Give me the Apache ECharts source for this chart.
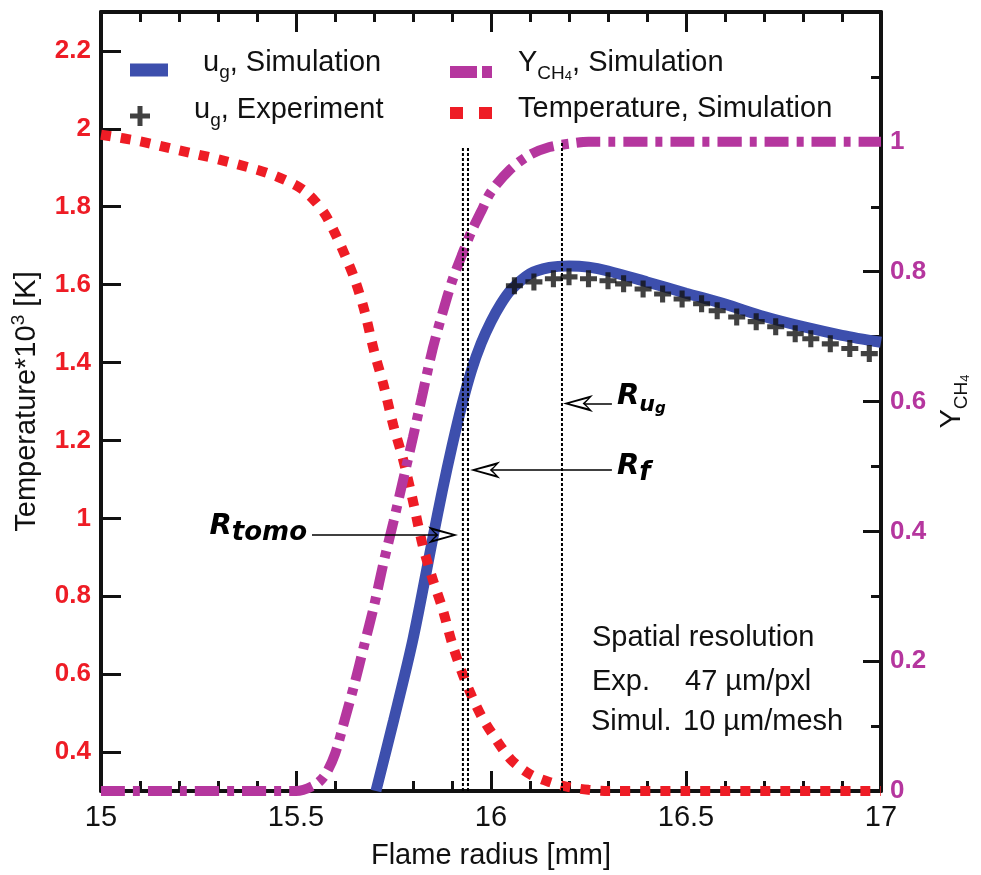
<!DOCTYPE html>
<html>
<head>
<meta charset="utf-8">
<script src="https://cdn.jsdelivr.net/npm/echarts@6/dist/echarts.min.js"></script>
<style>html,body{margin:0;padding:0;background:#fff}#c{width:981px;height:875px}</style>
</head>
<body>
<div id="c"></div>
<script>
// ---------------- data ----------------
const tempX = [15, 15.1, 15.2, 15.3, 15.4, 15.45, 15.5, 15.525, 15.55, 15.575, 15.6, 15.625, 15.65, 15.675, 15.7, 15.725, 15.75, 15.775, 15.8, 15.825, 15.85, 15.875, 15.9, 15.925, 15.95, 15.975, 16, 16.05, 16.1, 16.15, 16.2, 16.25, 16.3, 16.5, 16.75, 17];
const tempY = [1.985, 1.968, 1.945, 1.922, 1.895, 1.878, 1.855, 1.838, 1.813, 1.78, 1.732, 1.677, 1.615, 1.535, 1.43, 1.34, 1.237, 1.15, 1.044, 0.93, 0.845, 0.77, 0.68, 0.606, 0.545, 0.493, 0.452, 0.382, 0.343, 0.323, 0.31, 0.303, 0.3, 0.3, 0.3, 0.3];

const ch4X = [15, 15.5, 15.55, 15.575, 15.6, 15.625, 15.65, 15.675, 15.7, 15.725, 15.75, 15.775, 15.8, 15.825, 15.85, 15.875, 15.9, 15.925, 15.95, 15.975, 16, 16.05, 16.1, 16.15, 16.2, 16.25, 17];
const ch4Y = [0, 0, 0.01, 0.025, 0.057, 0.11, 0.165, 0.225, 0.285, 0.353, 0.415, 0.48, 0.545, 0.613, 0.68, 0.735, 0.785, 0.825, 0.862, 0.893, 0.923, 0.958, 0.98, 0.992, 0.997, 1.0, 1.0];

const ugSimX = [15.705, 15.75, 15.8, 15.85, 15.875, 15.9, 15.925, 15.95, 15.975, 16, 16.025, 16.05, 16.1, 16.15, 16.2, 16.25, 16.3, 16.4, 16.5, 16.6, 16.7, 16.8, 16.9, 17];
const ugSimY = [0.3, 0.48, 0.69, 0.945, 1.07, 1.185, 1.29, 1.38, 1.45, 1.505, 1.55, 1.585, 1.628, 1.644, 1.648, 1.645, 1.635, 1.607, 1.578, 1.55, 1.518, 1.492, 1.47, 1.452];

const ugExpX = [16.06, 16.11, 16.16, 16.2, 16.25, 16.3, 16.34, 16.39, 16.44, 16.49, 16.54, 16.58, 16.63, 16.68, 16.73, 16.78, 16.82, 16.87, 16.92, 16.97];
const ugExpY = [1.597, 1.607, 1.615, 1.62, 1.615, 1.61, 1.602, 1.589, 1.576, 1.563, 1.551, 1.533, 1.517, 1.505, 1.492, 1.474, 1.461, 1.448, 1.436, 1.423];

const leftTicks = [0.4, 0.6, 0.8, 1, 1.2, 1.4, 1.6, 1.8, 2, 2.2];

// reference lines (x position, top value on left axis)
const refLineX = [15.928, 15.941, 16.182];
const refLineTop = [1.952, 1.952, 1.965];

// annotation arrows: tail x, head x, y (left axis units)
const arrowTailX = [15.541, 16.31, 16.31];
const arrowHeadX = [15.859, 16.003, 16.241];
const arrowY = [0.957, 1.124, 1.295];

const N_UGSIM = 'u_g, Simulation';
const N_UGEXP = 'u_g, Experiment';
const N_CH4 = 'Y_CH4, Simulation';
const N_T = 'Temperature, Simulation';

// ---------------- styles ----------------
const FONT = '"Liberation Sans", Arial, Helvetica, sans-serif';
const BI = '"DejaVu Sans", Verdana, sans-serif';
const BLUE = '#3d4fad', RED = '#ee1c25', MAG = '#b5369e', INK = '#111';

const zip = (xs, ys) => xs.map((x, i) => [x, ys[i]]);

const PHANTOM = 'M0,0h0.01v0.01h-0.01Z ';
const ICON_BLUE = 'path://' + PHANTOM + 'M0,15H38V28H0Z';
const ICON_CROSS = 'path://M10,0h0.01v0.01h-0.01Z M7.5,12H12.5V19.5H20V24.5H12.5V32H7.5V24.5H0V19.5H7.5Z';
const ICON_MAG = 'path://' + PHANTOM + 'M0,18H27V30H0Z M32,18H42V30H32Z';
const ICON_RED = 'path://' + PHANTOM + 'M0,9H13V21H0Z M29,9H42V21H29Z';
const PLUS = 'path://M3.5,0H6.5V3.5H10V6.5H6.5V10H3.5V6.5H0V3.5H3.5Z';
const ARROW = 'path://M-13.5,0h0.01v0.01h-0.01Z M30.49,43.99h0.01v0.01h-0.01Z M8.5,0L17,30L8.5,22L0,30Z M8.5,6.5L3.6,25L8.5,19.6L13.4,25Z';

const legendText = {};
legendText[N_UGSIM] = '{sp| }{a|u}{s|g}{a|, Simulation}';
legendText[N_UGEXP] = '{sp| }{a|u}{s|g}{a|, Experiment}';
legendText[N_CH4] = '{sp2| }{a|Y}{c|CH}{d|4}{a|, Simulation}';
legendText[N_T] = '{sp2| }{a|Temperature, Simulation}';

const legendRich = {
  sp: {width: 30, fontSize: 10, lineHeight: 40},
  sp2: {width: 21, fontSize: 10, lineHeight: 40},
  a: {fontFamily: FONT, fontSize: 29, lineHeight: 40, color: INK},
  s: {fontFamily: FONT, fontSize: 19, lineHeight: 20, verticalAlign: 'bottom', color: INK},
  c: {fontFamily: FONT, fontSize: 19, lineHeight: 14, verticalAlign: 'bottom', color: INK},
  d: {fontFamily: FONT, fontSize: 13, lineHeight: 4, verticalAlign: 'bottom', color: INK}
};

function mkLegend(name, icon, left, top, w, h) {
  return {
    data: [{name: name, icon: icon}],
    left: left, top: top, orient: 'vertical', padding: 0,
    itemWidth: w, itemHeight: h, selectedMode: false,
    itemStyle: {borderWidth: 0},
    formatter: n => legendText[n],
    textStyle: {rich: legendRich}
  };
}

const annRich = {
  R: {fontFamily: BI, fontWeight: 'bold', fontStyle: 'italic', fontSize: 29, lineHeight: 40, color: '#000'},
  s: {fontFamily: BI, fontWeight: 'bold', fontStyle: 'italic', fontSize: 26, lineHeight: 25, verticalAlign: 'bottom', color: '#000'},
  u: {fontFamily: BI, fontWeight: 'bold', fontStyle: 'italic', fontSize: 22, lineHeight: 25, verticalAlign: 'bottom', color: '#000'},
  g: {fontFamily: BI, fontWeight: 'bold', fontStyle: 'italic', fontSize: 15, lineHeight: 12, verticalAlign: 'bottom', color: '#000'}
};
const annText = ['{R|R}{s|tomo}', '{R|R}{s|f}', '{R|R}{u|u}{g|g}'];
const annPad = [[0, 0, 18, 0], [0, 0, 8, 0], [0, 0, 14, 0]];

const xBase = {
  type: 'value', min: 15, max: 17, interval: 0.5,
  axisLine: {show: true, onZero: false, lineStyle: {color: INK, width: 4}},
  axisTick: {show: true, inside: true, length: 20, lineStyle: {color: INK, width: 3}},
  minorTick: {show: true, splitNumber: 5, length: 10, lineStyle: {color: INK, width: 3}},
  splitLine: {show: false}, minorSplitLine: {show: false}
};

const option = {
  animation: false,
  backgroundColor: '#fff',
  grid: {left: 101, right: 100, top: 12, bottom: 81},
  xAxis: [
    Object.assign({}, xBase, {
      position: 'bottom',
      axisLabel: {fontFamily: FONT, fontSize: 29, color: INK, margin: 12},
      name: 'Flame radius [mm]', nameLocation: 'middle', nameGap: 50,
      nameTextStyle: {fontFamily: FONT, fontSize: 29, color: INK}
    }),
    Object.assign({}, xBase, {position: 'top', axisLabel: {show: false}})
  ],
  yAxis: [
    {
      type: 'value', min: 0.3, max: 2.3, position: 'left',
      axisLine: {show: true, onZero: false, lineStyle: {color: INK, width: 4}},
      axisTick: {show: true, inside: true, length: 20, lineStyle: {color: INK, width: 3}, customValues: leftTicks},
      axisLabel: {customValues: leftTicks, fontFamily: FONT, fontWeight: 'bold', fontSize: 26, color: RED, margin: 10,
                  formatter: v => String(v)},
      splitLine: {show: false},
      name: '{a|Temperature*10}{sup|3}{a| [K]}', nameLocation: 'middle', nameGap: 56,
      nameTextStyle: {rich: {
        a: {fontFamily: FONT, fontSize: 29, lineHeight: 36, color: INK},
        sup: {fontFamily: FONT, fontSize: 19, lineHeight: 22, verticalAlign: 'top', color: INK}
      }}
    },
    {
      type: 'value', min: 0, max: 1.2, interval: 0.2, position: 'right',
      axisLine: {show: true, onZero: false, lineStyle: {color: INK, width: 4}},
      axisTick: {show: true, inside: true, length: 18, lineStyle: {color: INK, width: 3}},
      minorTick: {show: true, splitNumber: 2, length: 10, lineStyle: {color: INK, width: 3}},
      axisLabel: {fontFamily: FONT, fontWeight: 'bold', fontSize: 26, color: MAG, margin: 9,
                  formatter: v => (v > 1.1 ? '' : String(+v.toFixed(1)))},
      splitLine: {show: false}, minorSplitLine: {show: false},
      name: '{a|Y}{c|CH}{d|4}', nameLocation: 'middle', nameGap: 46,
      nameTextStyle: {rich: {
        a: {fontFamily: FONT, fontSize: 29, lineHeight: 40, color: INK},
        c: {fontFamily: FONT, fontSize: 19, lineHeight: 14, verticalAlign: 'bottom', color: INK},
        d: {fontFamily: FONT, fontSize: 13, lineHeight: 4, verticalAlign: 'bottom', color: INK}
      }}
    }
  ],
  legend: [
    mkLegend(N_UGSIM, ICON_BLUE, 130, 48, 38, 28),
    mkLegend(N_UGEXP, ICON_CROSS, 130, 94, 38, 32),
    mkLegend(N_CH4, ICON_MAG, 450, 48, 42, 30),
    mkLegend(N_T, ICON_RED, 450, 94, 42, 21)
  ],
  graphic: [
    {type: 'text', x: 592, y: 638, silent: true, style: {text: 'Spatial resolution', fontFamily: FONT, fontSize: 29, fill: INK, verticalAlign: 'middle'}},
    {type: 'text', x: 592, y: 682, silent: true, style: {text: 'Exp.', fontFamily: FONT, fontSize: 29, fill: INK, verticalAlign: 'middle'}},
    {type: 'text', x: 685, y: 682, silent: true, style: {text: '47 \u00b5m/pxl', fontFamily: FONT, fontSize: 29, fill: INK, verticalAlign: 'middle'}},
    {type: 'text', x: 591, y: 722, silent: true, style: {text: 'Simul.', fontFamily: FONT, fontSize: 29, fill: INK, verticalAlign: 'middle'}},
    {type: 'text', x: 683, y: 722, silent: true, style: {text: '10 \u00b5m/mesh', fontFamily: FONT, fontSize: 29, fill: INK, verticalAlign: 'middle'}}
  ],
  series: [
    {
      name: N_UGSIM, type: 'line', xAxisIndex: 0, yAxisIndex: 0,
      data: zip(ugSimX, ugSimY), smooth: 0.3, showSymbol: false, symbol: 'none',
      color: BLUE, lineStyle: {color: BLUE, width: 11}, z: 2
    },
    {
      name: N_T, type: 'line', xAxisIndex: 0, yAxisIndex: 0,
      data: zip(tempX, tempY), smooth: 0.3, showSymbol: false, symbol: 'none',
      color: RED, lineStyle: {color: RED, width: 10, type: [10, 10], cap: 'butt'}, z: 3
    },
    {
      name: N_CH4, type: 'line', xAxisIndex: 0, yAxisIndex: 1,
      data: zip(ch4X, ch4Y), smooth: 0.3, showSymbol: false, symbol: 'none',
      color: MAG, lineStyle: {color: MAG, width: 10, type: [24, 8, 7, 8], cap: 'butt'}, z: 4
    },
    {
      name: N_UGEXP, type: 'scatter', xAxisIndex: 0, yAxisIndex: 0,
      data: zip(ugExpX, ugExpY), symbol: PLUS, symbolSize: 17,
      itemStyle: {color: INK}, z: 5
    }
  ].concat(refLineX.map((x, i) => ({
    name: 'ref' + i, type: 'line', xAxisIndex: 0, yAxisIndex: 0, silent: true,
    data: [[x, 0.3], [x, refLineTop[i]]], showSymbol: false, symbol: 'none',
    lineStyle: {color: '#000', width: 2, type: [3, 2]}, z: 6,
    markLine: i === 0 ? {
      silent: true, animation: false,
      symbol: ['none', ARROW], symbolSize: 44,
      lineStyle: {color: '#000', width: 1.5, type: 'solid'},
      data: arrowY.map((y, k) => [
        {coord: [arrowTailX[k], y],
         label: {show: true, position: 'start', distance: 5, formatter: annText[k], rich: annRich, padding: annPad[k]}},
        {coord: [arrowHeadX[k], y]}
      ])
    } : undefined
  })))
};

const chart = echarts.init(document.getElementById('c'));
chart.setOption(option);
</script>
</body>
</html>
